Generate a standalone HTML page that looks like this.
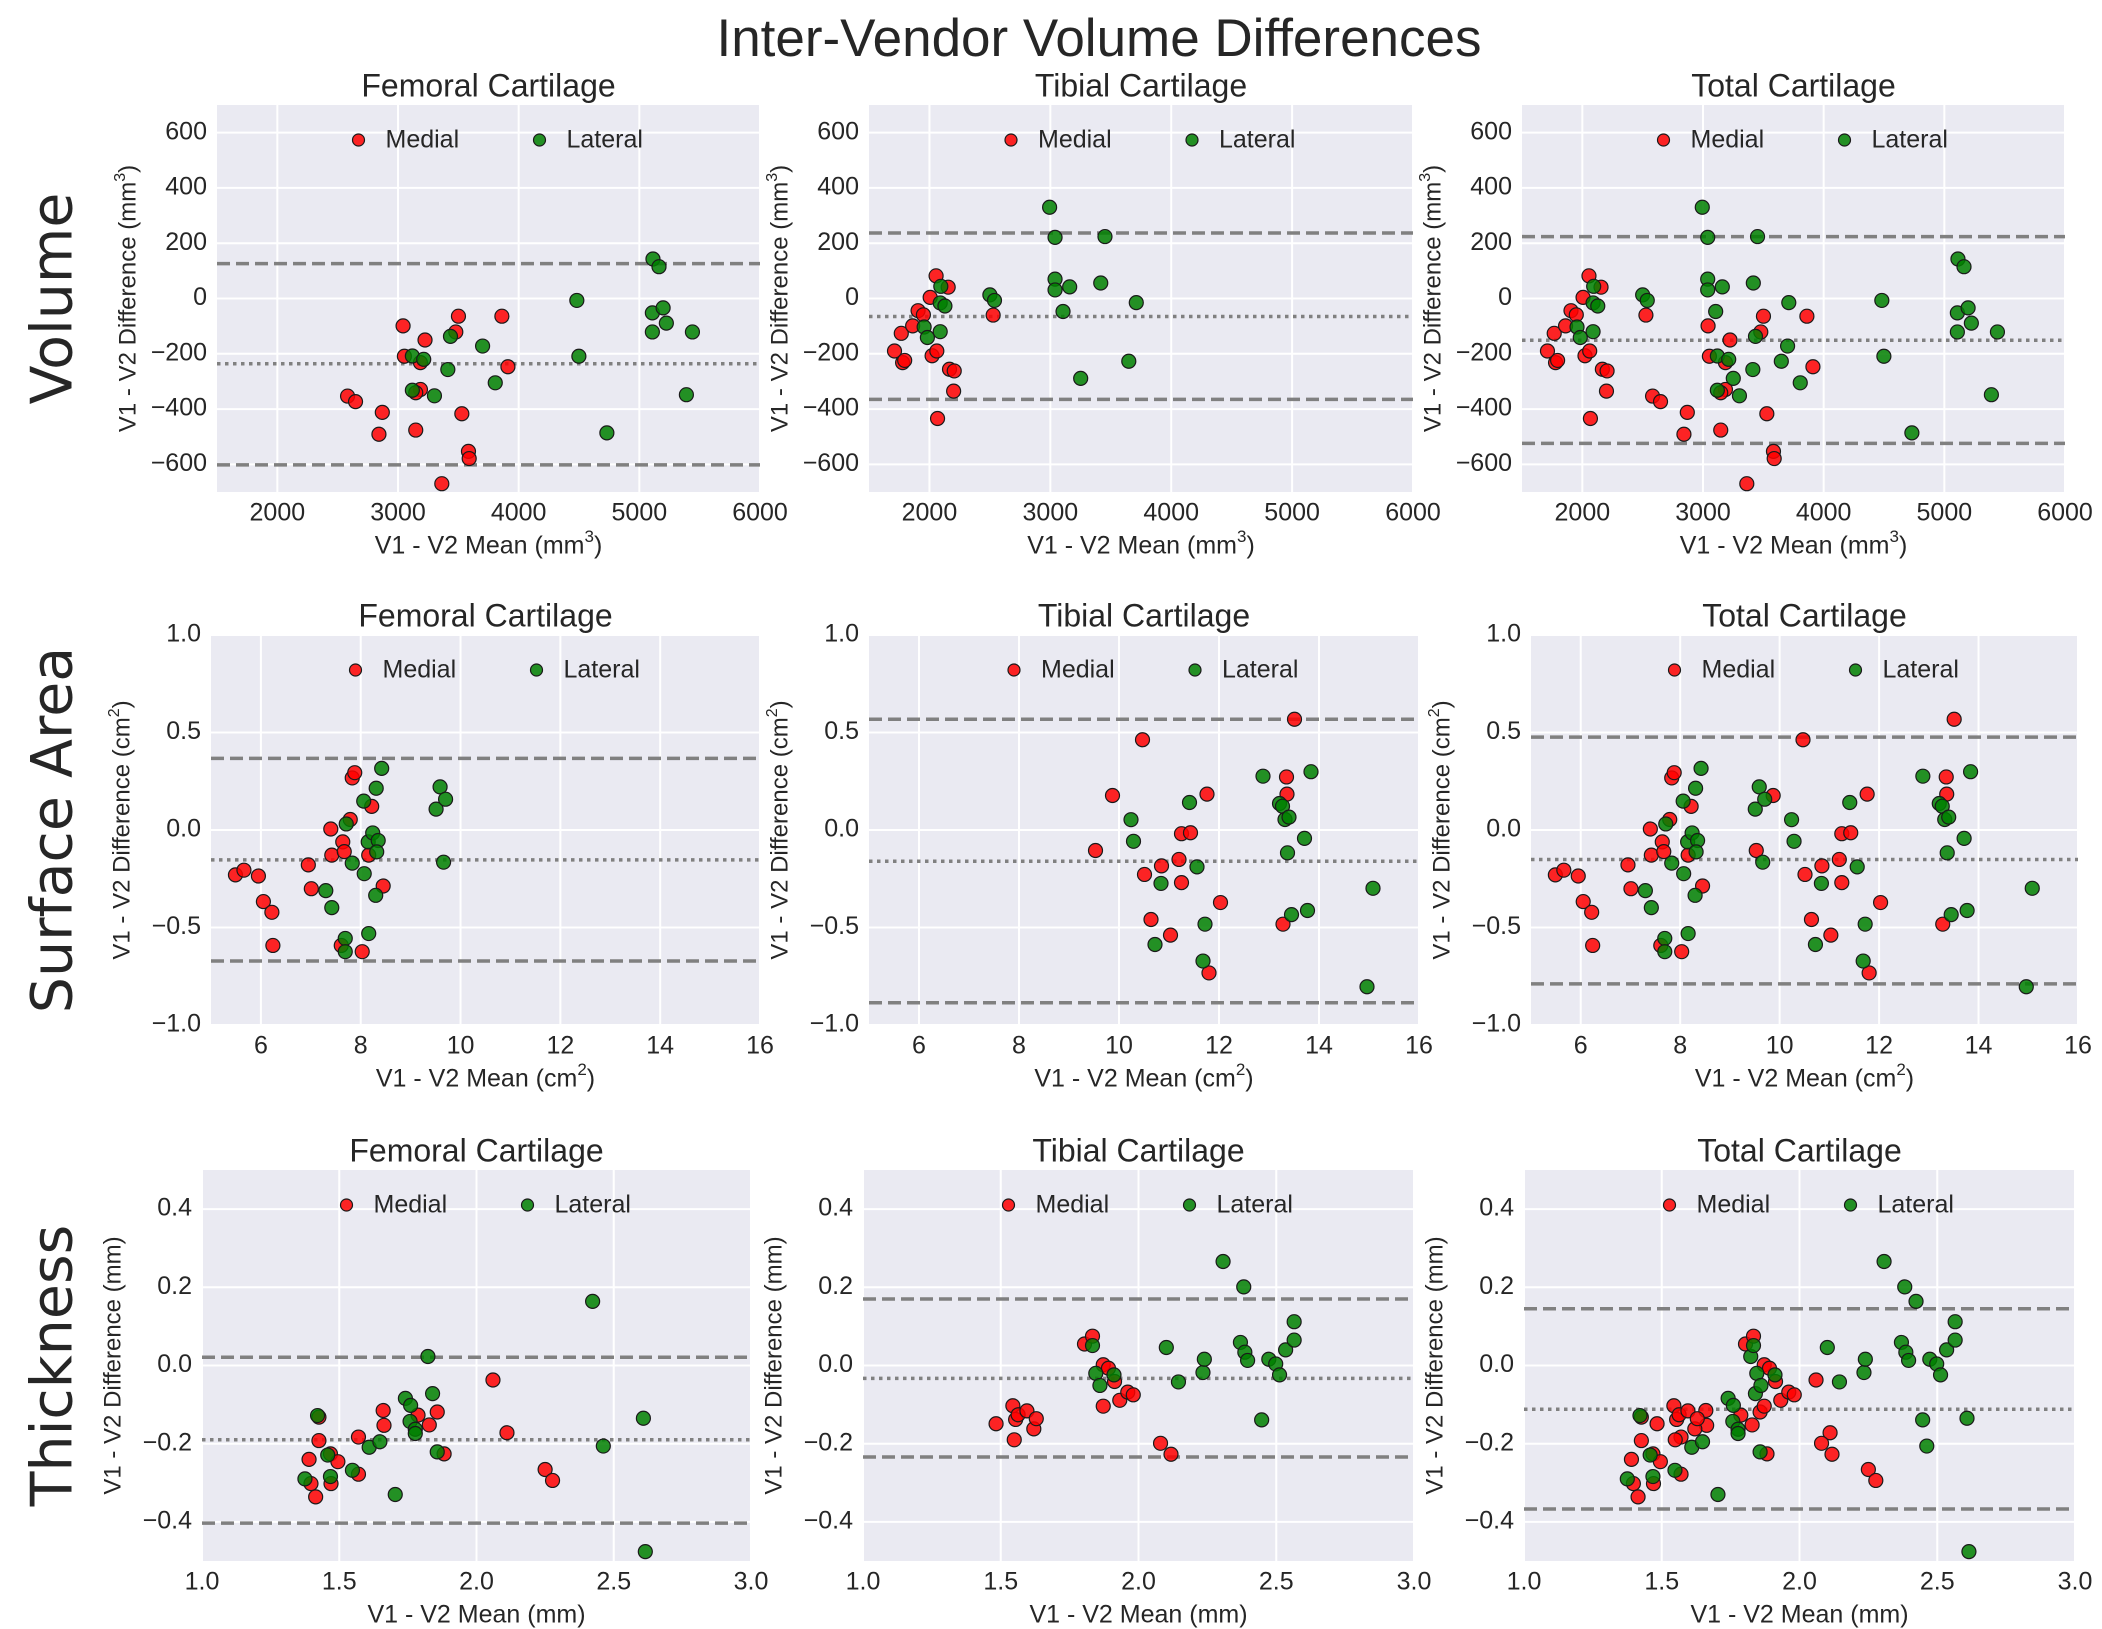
<!DOCTYPE html>
<html><head><meta charset="utf-8">
<style>
html,body{margin:0;padding:0;background:#fff;}
svg{display:block;}
text{font-family:"Liberation Sans",sans-serif;fill:#262626;}
</style></head>
<body>
<svg id="chart" width="2102" height="1629" viewBox="0 0 2102 1629" xmlns="http://www.w3.org/2000/svg">
<text x="1099" y="42" font-size="53" text-anchor="middle" dominant-baseline="middle">Inter-Vendor Volume Differences</text>
</svg>
<script>
// ---------- DATA ----------
// Volume (mm^3)
const volFemMedX=[2582,2648,2842,2870,3042,3053,3186,3186,3147,3147,3224,3479,3501,3529,3584,3590,3363,3861,3911];
const volFemMedY=[-353,-373,-491,-412,-99,-209,-232,-329,-476,-341,-150,-121,-64,-417,-553,-579,-670,-64,-247];
const volFemLatX=[3119,3213,3119,3302,3413,3435,3701,3806,4482,4499,4731,5113,5163,5108,5108,5197,5224,5440,5390];
const volFemLatY=[-208,-220,-332,-352,-257,-137,-172,-305,-7,-209,-486,143,115,-52,-121,-34,-89,-121,-348];
const volTibMedX=[1711,1767,1778,1795,1861,1906,1950,2006,2055,2155,2022,2061,2166,2205,2200,2067,2527];
const volTibMedY=[-190,-126,-232,-224,-99,-44,-59,4,82,41,-207,-190,-256,-262,-335,-434,-60];
const volTibLatX=[1956,1983,2089,2094,2089,2128,2500,2538,2994,3039,3039,3039,3160,3105,3417,3452,3711,3649,3251];
const volTibLatY=[-103,-141,-120,44,-16,-27,13,-7,330,221,70,31,42,-47,56,224,-15,-227,-289];
// Surface area (cm^2)
const saFemMedX=[5.49,5.66,5.95,6.05,6.22,6.24,6.95,7.01,7.40,7.42,7.64,7.67,7.61,7.79,7.83,7.88,8.03,8.16,8.22,8.45];
const saFemMedY=[-0.230,-0.206,-0.236,-0.367,-0.422,-0.592,-0.179,-0.301,0.005,-0.129,-0.061,-0.111,-0.592,0.054,0.267,0.294,-0.624,-0.129,0.121,-0.287];
const saFemLatX=[7.30,7.42,7.71,7.83,7.69,7.69,8.06,8.07,8.16,8.15,8.24,8.35,8.32,8.30,8.31,8.42,9.51,9.59,9.70,9.66];
const saFemLatY=[-0.311,-0.398,0.031,-0.170,-0.556,-0.624,0.148,-0.224,-0.531,-0.061,-0.015,-0.054,-0.112,-0.335,0.214,0.316,0.107,0.221,0.158,-0.165];
const saTibMedX=[9.53,9.87,10.47,10.51,10.64,10.85,11.03,11.20,11.25,11.25,11.43,11.76,11.80,12.03,13.28,13.35,13.36,13.51];
const saTibMedY=[-0.105,0.177,0.463,-0.228,-0.459,-0.184,-0.539,-0.151,-0.019,-0.270,-0.014,0.184,-0.733,-0.372,-0.483,0.272,0.184,0.568];
const saTibLatX=[10.24,10.29,10.72,10.84,11.41,11.56,11.68,11.72,12.88,13.21,13.27,13.32,13.40,13.37,13.45,13.71,13.77,13.84,14.96,15.08];
const saTibLatY=[0.053,-0.058,-0.587,-0.274,0.141,-0.189,-0.672,-0.483,0.276,0.136,0.122,0.054,0.066,-0.117,-0.434,-0.043,-0.413,0.299,-0.804,-0.299];
// Thickness (mm)
const thFemMedX=[1.390,1.397,1.414,1.426,1.426,1.468,1.470,1.495,1.570,1.570,1.660,1.663,1.787,1.828,1.857,1.882,2.060,2.111,2.250,2.277];
const thFemMedY=[-0.240,-0.302,-0.336,-0.192,-0.132,-0.226,-0.302,-0.246,-0.278,-0.183,-0.115,-0.153,-0.127,-0.152,-0.119,-0.226,-0.037,-0.172,-0.266,-0.294];
const thFemLatX=[1.375,1.421,1.458,1.468,1.548,1.609,1.648,1.704,1.741,1.760,1.758,1.777,1.777,1.823,1.840,1.857,2.423,2.462,2.608,2.615];
const thFemLatY=[-0.290,-0.128,-0.229,-0.284,-0.268,-0.209,-0.195,-0.330,-0.084,-0.102,-0.143,-0.163,-0.174,0.023,-0.072,-0.221,0.164,-0.206,-0.135,-0.476];
const thTibMedX=[1.483,1.544,1.554,1.563,1.549,1.595,1.620,1.629,1.804,1.833,1.872,1.891,1.913,1.932,1.872,1.961,1.981,2.080,2.118];
const thTibMedY=[-0.149,-0.103,-0.138,-0.126,-0.190,-0.116,-0.162,-0.136,0.055,0.075,0.002,-0.007,-0.041,-0.089,-0.104,-0.068,-0.075,-0.199,-0.227];
const thTibLatX=[1.833,1.845,1.860,1.911,2.101,2.145,2.234,2.239,2.307,2.370,2.386,2.396,2.382,2.447,2.473,2.498,2.512,2.534,2.565,2.565];
const thTibLatY=[0.051,-0.020,-0.051,-0.024,0.046,-0.042,-0.018,0.016,0.266,0.059,0.034,0.013,0.201,-0.139,0.016,0.004,-0.024,0.040,0.065,0.112];
// Limits of agreement [upper, mean, lower]
const volLoA=[[126,-236,-602],[237,-65,-365],[224,-151,-524]];
const saLoA=[[0.367,-0.153,-0.672],[0.568,-0.160,-0.886],[0.476,-0.151,-0.789]];
const thLoA=[[0.021,-0.190,-0.403],[0.170,-0.033,-0.234],[0.145,-0.112,-0.367]];
// Ticks
const volXTicks=[2000,3000,4000,5000,6000];
const volYTicks=[-600,-400,-200,0,200,400,600];
const saXTicks=[6,8,10,12,14,16];
const saYTicks=[-1.0,-0.5,0.0,0.5,1.0];
const thXTicks=[1.0,1.5,2.0,2.5,3.0];
const thYTicks=[-0.4,-0.2,0.0,0.2,0.4];
const colTitles=["Femoral Cartilage","Tibial Cartilage","Total Cartilage"];
const rowNames=["Volume","Surface Area","Thickness"];

// ---------- LAYOUT ----------
const NS="http://www.w3.org/2000/svg";
const svg=document.getElementById('chart');
function mk(tag,attrs,parent){const e=document.createElementNS(NS,tag);for(const k in attrs)e.setAttribute(k,attrs[k]);(parent||svg).appendChild(e);return e;}
const rowsY=[[105,492],[635,1025],[1170,1561]];
const colsX=[[[217,760],[869,1413],[1522,2065]],[[211,760],[869,1419],[1531,2078]],[[202,751],[863,1414],[1524,2075]]];
const rowsCfg=[
 {xlim:[1500,6000],ylim:[-700,700],xt:volXTicks,yt:volYTicks,fmtY:v=>String(v),fmtX:v=>String(v),unit:'mm',sup:'3',loa:volLoA,
  data:[[volFemMedX,volFemMedY,volFemLatX,volFemLatY],[volTibMedX,volTibMedY,volTibLatX,volTibLatY]]},
 {xlim:[5,16],ylim:[-1,1],xt:saXTicks,yt:saYTicks,fmtY:v=>v.toFixed(1),fmtX:v=>String(v),unit:'cm',sup:'2',loa:saLoA,
  data:[[saFemMedX,saFemMedY,saFemLatX,saFemLatY],[saTibMedX,saTibMedY,saTibLatX,saTibLatY]]},
 {xlim:[1,3],ylim:[-0.5,0.5],xt:thXTicks,yt:thYTicks,fmtY:v=>v.toFixed(1),fmtX:v=>v.toFixed(1),unit:'mm',sup:'',loa:thLoA,
  data:[[thFemMedX,thFemMedY,thFemLatX,thFemLatY],[thTibMedX,thTibMedY,thTibLatX,thTibLatY]]}
];
const minus=s=>s.replace('-','\u2212');

rowsCfg.forEach((cfg,r)=>{
  const [top,bot]=rowsY[r];
  const rl=mk('text',{x:56,y:(top+bot)/2,'font-size':57,'text-anchor':'middle','dominant-baseline':'middle',transform:`rotate(-90 56 ${(top+bot)/2})`,style:'font-family:"DejaVu Sans",sans-serif'});
  
  
  rl.textContent=rowNames[r];
  for(let c=0;c<3;c++){
    const [left,right]=colsX[r][c];
    const g=mk('g',{});
    
    
    const sx=v=>left+(v-cfg.xlim[0])/(cfg.xlim[1]-cfg.xlim[0])*(right-left);
    const sy=v=>bot-(v-cfg.ylim[0])/(cfg.ylim[1]-cfg.ylim[0])*(bot-top);
    const bg=mk('rect',{x:left,y:top,width:right-left,height:bot-top,fill:'#EAEAF2'},g);
    
    
    cfg.xt.forEach(t=>{
      const l=mk('line',{x1:sx(t),x2:sx(t),y1:top,y2:bot,stroke:'#fff','stroke-width':2},g);
      
      
      const tx=mk('text',{x:sx(t),y:bot+22,'font-size':25,'text-anchor':'middle','dominant-baseline':'middle'},g);
      
      
      tx.textContent=cfg.fmtX(t);
    });
    cfg.yt.forEach(t=>{
      const l=mk('line',{x1:left,x2:right,y1:sy(t),y2:sy(t),stroke:'#fff','stroke-width':2},g);
      
      
      const ty=mk('text',{x:left-10,y:sy(t),'font-size':25,'text-anchor':'end','dominant-baseline':'middle'},g);
      
      
      ty.textContent=minus(cfg.fmtY(t));
    });
    const loa=cfg.loa[c];
    [0,2].forEach(i=>{
      const l=mk('line',{x1:left,x2:right,y1:sy(loa[i]),y2:sy(loa[i]),stroke:'#808080','stroke-width':3.5,'stroke-dasharray':'13 6'},g);
      
      
    });
    const ml=mk('line',{x1:left,x2:right,y1:sy(loa[1]),y2:sy(loa[1]),stroke:'#808080','stroke-width':3.5,'stroke-dasharray':'3.5 4.5'},g);
    
    
    let sets;
    if(c<2) sets=cfg.data[c];
    else { const a=cfg.data[0],b=cfg.data[1]; sets=[a[0].concat(b[0]),a[1].concat(b[1]),a[2].concat(b[2]),a[3].concat(b[3])]; }
    const drawPts=(xs,ys,fill,name)=>{
      xs.forEach((x,i)=>{
        const p=mk('circle',{cx:sx(x),cy:sy(ys[i]),r:7,fill:fill,'fill-opacity':0.85,stroke:'#1a1a1a','stroke-width':1.2},g);
        
        
      });
    };
    drawPts(sets[0],sets[1],'#ff0000','medial-point');
    drawPts(sets[2],sets[3],'#008000','lateral-point');
    const cx=(left+right)/2, ly=top+35;
    const lm=mk('circle',{cx:cx-130,cy:ly,r:6,fill:'#ff0000','fill-opacity':0.85,stroke:'#1a1a1a','stroke-width':1.2},g);
    
    
    const lmt=mk('text',{x:cx-103,y:ly+1,'font-size':25,'dominant-baseline':'middle'},g);
    
    
    lmt.textContent='Medial';
    const ll=mk('circle',{cx:cx+51,cy:ly,r:6,fill:'#008000','fill-opacity':0.85,stroke:'#1a1a1a','stroke-width':1.2},g);
    
    
    const llt=mk('text',{x:cx+78,y:ly+1,'font-size':25,'dominant-baseline':'middle'},g);
    
    
    llt.textContent='Lateral';
    const tt=mk('text',{x:cx,y:top-17,'font-size':32,'text-anchor':'middle','dominant-baseline':'middle'},g);
    
    
    tt.textContent=colTitles[c];
    const xl=mk('text',{x:cx,y:bot+55,'font-size':25,'text-anchor':'middle','dominant-baseline':'middle'},g);
    
    
    xl.innerHTML='V1 - V2 Mean ('+cfg.unit+(cfg.sup?'<tspan baseline-shift="super" font-size="17">'+cfg.sup+'</tspan>':'')+')';
    const yx=left-88, yc=(top+bot)/2;
    const yl=mk('text',{x:yx,y:yc,'font-size':24,'text-anchor':'middle','dominant-baseline':'middle',transform:`rotate(-90 ${yx} ${yc})`},g);
    
    
    yl.innerHTML='V1 - V2 Difference ('+cfg.unit+(cfg.sup?'<tspan baseline-shift="super" font-size="16">'+cfg.sup+'</tspan>':'')+')';
  }
});
</script>
</body></html>
